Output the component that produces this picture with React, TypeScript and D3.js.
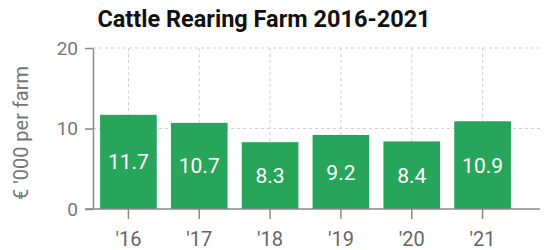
import React, { useEffect, useRef } from 'react';
import * as d3 from 'd3';

const years = ["'16", "'17", "'18", "'19", "'20", "'21"];
const values = [11.7, 10.7, 8.3, 9.2, 8.4, 10.9];
const yTicks = [0, 10, 20];

export default function App() {
  const svgRef = useRef<SVGSVGElement>(null);

  useEffect(() => {
    if (!svgRef.current) return;
    const svg = d3.select(svgRef.current);
    svg.selectAll('*').remove();

    const left = 93, right = 518, gridRight = 540;
    const top = 48, bottom = 209;

    const x = d3.scaleBand<string>()
      .domain(years)
      .range([left, right])
      .paddingInner(0.2)
      .paddingOuter(0.1);

    const y = d3.scaleLinear().domain([0, 20]).range([bottom, top]);

    const font = 'Roboto, "Noto Sans", sans-serif';

    // title
    svg.append('text')
      .attr('x', 264)
      .attr('y', 27)
      .attr('text-anchor', 'middle')
      .style('font-family', font)
      .style('font-size', '23.5px')
      .style('font-weight', 'bold')
      .style('fill', '#111')
      .text('Cattle Rearing Farm 2016-2021');

    // horizontal grid
    svg.append('g')
      .selectAll('line')
      .data(yTicks.filter(t => t > 0))
      .enter()
      .append('line')
        .attr('x1', left)
        .attr('x2', gridRight)
        .attr('y1', d => y(d))
        .attr('y2', d => y(d))
        .attr('stroke', '#cfcfcf')
        .attr('stroke-dasharray', '3,3');

    // vertical grid
    svg.append('g')
      .selectAll('line')
      .data(years)
      .enter()
      .append('line')
        .attr('x1', d => (x(d) || 0) + x.bandwidth() / 2)
        .attr('x2', d => (x(d) || 0) + x.bandwidth() / 2)
        .attr('y1', top)
        .attr('y2', bottom)
        .attr('stroke', '#cfcfcf')
        .attr('stroke-dasharray', '3,3');

    // bars
    svg.append('g')
      .selectAll('rect')
      .data(values)
      .enter()
      .append('rect')
        .attr('x', (d, i) => x(years[i]) || 0)
        .attr('y', d => y(d))
        .attr('width', x.bandwidth())
        .attr('height', d => bottom - y(d))
        .attr('fill', '#27a65b');

    // value labels
    svg.append('g')
      .selectAll('text')
      .data(values)
      .enter()
      .append('text')
        .attr('x', (d, i) => (x(years[i]) || 0) + x.bandwidth() / 2)
        .attr('y', d => (y(d) + bottom) / 2)
        .attr('dy', '0.36em')
        .attr('text-anchor', 'middle')
        .style('font-family', font)
        .style('font-size', '21px')
        .style('fill', '#fff')
        .text(d => d.toFixed(1));

    // y axis
    const gy = svg.append('g')
      .attr('transform', `translate(${left},0)`)
      .call(d3.axisLeft(y).tickValues(yTicks).tickSize(8).tickPadding(7).tickSizeOuter(0));
    gy.select('.domain').attr('stroke', '#888').attr('stroke-width', 1.5);
    gy.selectAll('.tick line').attr('stroke', '#888').attr('stroke-width', 1.5);
    gy.selectAll('.tick text')
      .style('font-family', font)
      .style('font-size', '19px')
      .style('fill', '#777');

    // x axis
    const gx = svg.append('g')
      .attr('transform', `translate(0,${bottom})`)
      .call(d3.axisBottom(x).tickSize(10).tickPadding(13).tickSizeOuter(0));
    gx.select('.domain').remove();
    gx.append('line')
      .attr('x1', left - 8)
      .attr('x2', gridRight)
      .attr('stroke', '#888')
      .attr('stroke-width', 1.5);
    gx.selectAll('.tick line').attr('stroke', '#888').attr('stroke-width', 1.5);
    gx.selectAll('.tick text')
      .style('font-family', font)
      .style('font-size', '20px')
      .style('fill', '#666');

    // y axis title
    svg.append('text')
      .attr('transform', `translate(28,133) rotate(-90)`)
      .attr('text-anchor', 'middle')
      .style('font-family', font)
      .style('font-size', '20px')
      .style('fill', '#777')
      .text("€ '000 per farm");
  }, []);

  return (
    <svg
      ref={svgRef}
      width={546}
      height={250}
      style={{ position: 'absolute', left: 0, top: 0, background: '#fff' }}
    />
  );
}
